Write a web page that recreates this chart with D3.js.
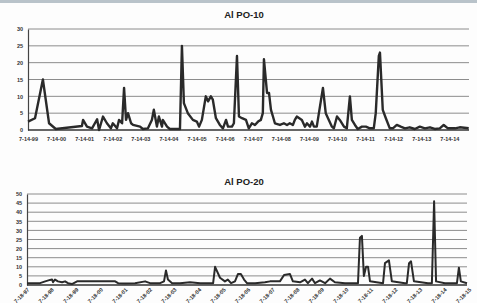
<!DOCTYPE html>
<html>
<head>
<meta charset="utf-8">
<script src="https://cdnjs.cloudflare.com/ajax/libs/d3/7.8.5/d3.min.js"></script>
<style>
  body { margin: 0; background: #fdfdfd; }
  svg { display: block; font-family: "Liberation Sans", Arial, sans-serif; }
</style>
</head>
<body>
<div id="chart"></div>
<script>
// PO-10: decimal year and value
var po10Years = [1999.00, 1999.25, 1999.53, 1999.75, 1999.99, 2000.92, 2000.96, 2001.10, 2001.28, 2001.46,
  2001.53, 2001.67, 2001.81, 2001.95, 2002.02, 2002.17, 2002.24, 2002.35, 2002.42, 2002.49,
  2002.56, 2002.67, 2002.74, 2002.99, 2003.09, 2003.27, 2003.41, 2003.48, 2003.59, 2003.66,
  2003.77, 2003.80, 2003.95, 2004.05, 2004.41, 2004.48, 2004.55, 2004.69, 2004.87, 2005.01,
  2005.09, 2005.19, 2005.33, 2005.41, 2005.51, 2005.58, 2005.69, 2005.83, 2005.94, 2006.05,
  2006.12, 2006.26, 2006.33, 2006.44, 2006.51, 2006.62, 2006.76, 2006.86, 2006.97, 2007.08,
  2007.19, 2007.29, 2007.36, 2007.40, 2007.51, 2007.58, 2007.65, 2007.72, 2007.79, 2007.97,
  2008.11, 2008.22, 2008.32, 2008.43, 2008.50, 2008.57, 2008.75, 2008.86, 2008.93, 2009.04,
  2009.11, 2009.18, 2009.28, 2009.50, 2009.60, 2009.71, 2009.82, 2009.89, 2010.00, 2010.10,
  2010.25, 2010.35, 2010.46, 2010.53, 2010.64, 2010.74, 2010.89, 2011.03, 2011.17, 2011.31,
  2011.38, 2011.49, 2011.53, 2011.63, 2011.74, 2011.88, 2011.99, 2012.13, 2012.27, 2012.42,
  2012.59, 2012.77, 2012.95, 2013.13, 2013.31, 2013.48, 2013.66, 2013.80, 2013.95, 2014.20,
  2014.37, 2014.69];
var po10Values = [2.5, 3.5, 15, 2, 0.3, 1.2, 3, 1, 0.5, 3.2,
  0, 4, 2, 0.5, 2, 0.5, 3, 2, 12.5, 3,
  5, 2, 1.5, 1, 0.3, 0.5, 3, 6, 1, 4,
  1, 3, 1, 0.3, 0.3, 25, 8, 5, 3, 2.5,
  1, 3, 10, 8.5, 10, 9, 3.5, 1.5, 0.5, 3,
  1, 1, 2, 22, 4, 3.5, 3, 0.5, 2, 1.5,
  2.5, 3, 5, 21, 11, 11, 6, 4, 2, 1.5,
  2, 1.5, 2, 1.5, 3, 4, 3, 1, 2, 1,
  2.5, 1, 1, 12.5, 5, 3, 1, 0.5, 4, 3,
  1, 0.5, 10, 3, 1.5, 0.3, 1, 1, 0.5, 0.5,
  5, 22, 23, 6, 3.5, 0.5, 0.5, 1.5, 1, 0.5,
  0.8, 0.3, 1, 0.5, 0.8, 0.3, 0.5, 1.5, 0.5, 0.5,
  0.8, 0.5];

// PO-20: decimal year and value
var po20Years = [1997.12, 1997.65, 1997.86, 1998.06, 1998.14, 1998.18, 1998.26, 1998.38, 1998.55, 1998.67,
  1998.79, 1998.95, 1999.16, 2000.71, 2000.83, 2001.11, 2001.52, 2001.93, 2002.13, 2002.54,
  2002.70, 2002.78, 2002.86, 2003.03, 2003.35, 2003.76, 2004.17, 2004.70, 2004.78, 2004.98,
  2005.18, 2005.30, 2005.43, 2005.59, 2005.71, 2005.83, 2005.96, 2006.08, 2006.41, 2006.81,
  2007.02, 2007.42, 2007.59, 2007.83, 2007.95, 2008.24, 2008.44, 2008.56, 2008.73, 2008.85,
  2009.05, 2009.26, 2009.46, 2009.66, 2010.07, 2010.60, 2010.68, 2010.76, 2010.84, 2010.93,
  2011.01, 2011.09, 2011.62, 2011.70, 2011.86, 2011.98, 2012.51, 2012.59, 2012.68, 2012.76,
  2012.88, 2013.45, 2013.61, 2013.70, 2013.78, 2014.14, 2014.63, 2014.71, 2014.79, 2015.04];
var po20Values = [1, 1, 2, 2.8, 3, 1.5, 3, 2, 1.5, 2,
  1, 0.5, 2, 2, 1, 0.8, 1, 2, 1, 1,
  2, 8, 3, 1, 1, 1.5, 1, 1, 10, 4,
  2, 3, 1, 2, 6, 6, 3, 1, 1, 1.5,
  2, 2, 5.5, 6, 2, 1.5, 3, 1, 3.5, 1,
  2.5, 1, 3.5, 1.5, 1, 1, 26, 27, 5, 10,
  10, 2, 1, 12, 13.5, 2, 1, 1, 12, 13,
  2, 1, 1, 46, 2, 1, 1, 9.5, 2, 1];

var po10TickYears = d3.range(1999, 2015);
var po10TickLabels = ["7-14-99", "7-14-00", "7-14-01", "7-14-02", "7-14-03", "7-14-04", "7-14-05", "7-14-06",
  "7-14-07", "7-14-08", "7-14-09", "7-14-10", "7-14-11", "7-14-12", "7-14-13", "7-14-14"];
var po10YTicks = [0, 5, 10, 15, 20, 25, 30];

var po20TickYears = d3.range(1997, 2016);
var po20TickLabels = ["7-18-97", "7-18-98", "7-18-99", "7-18-00", "7-18-01", "7-18-02", "7-18-03", "7-18-04",
  "7-18-05", "7-18-06", "7-18-07", "7-18-08", "7-18-09", "7-18-10", "7-18-11", "7-18-12", "7-18-13",
  "7-18-14", "7-18-15"];
var po20YTicks = [0, 5, 10, 15, 20, 25, 30, 35, 40, 45, 50];

var svgWidth = 477;
var svgHeight = 303;

var svg = d3.select("#chart")
  .append("svg")
  .attr("width", svgWidth)
  .attr("height", svgHeight);

// scanned page edge at the top
svg.append("rect")
  .attr("width", svgWidth)
  .attr("height", 3)
  .attr("fill", "#b9c3ca");

function drawPanel(opt) {
  var x = d3.scaleLinear().domain(opt.xDomain).range([opt.left, opt.right]);
  var y = d3.scaleLinear().domain([0, d3.max(opt.yTicks)]).range([opt.bottom, opt.top]);

  svg.append("text")
    .attr("x", opt.titleX)
    .attr("y", opt.titleY)
    .attr("text-anchor", "middle")
    .attr("font-size", 9.5)
    .attr("font-weight", "bold")
    .attr("fill", "#222")
    .text(opt.title);

  // horizontal grid
  svg.append("g")
    .selectAll("line")
    .data(opt.yTicks.filter(d => d > 0))
    .enter()
    .append("line")
    .attr("x1", opt.left)
    .attr("x2", opt.right)
    .attr("y1", d => y(d))
    .attr("y2", d => y(d))
    .attr("stroke", "#8c8c8c")
    .attr("stroke-width", 1);

  var leftAxis = d3.axisLeft(y).tickValues(opt.yTicks).tickSize(0).tickPadding(5);
  var yg = svg.append("g")
    .attr("transform", `translate(${opt.left},0)`)
    .call(leftAxis);
  yg.select(".domain").attr("stroke", "#444").attr("stroke-width", 1.2);
  yg.selectAll("text")
    .attr("font-size", 5.5)
    .attr("font-weight", "bold")
    .attr("fill", "#333")
    .attr("font-family", "Liberation Sans, Arial, sans-serif");

  var labelFor = d3.scaleOrdinal().domain(opt.tickYears).range(opt.tickLabels);
  var bottomAxis = d3.axisBottom(x).tickValues(opt.tickYears).tickSize(0)
    .tickFormat(d => labelFor(d)).tickPadding(opt.rotate ? 4 : 7);
  var xg = svg.append("g")
    .attr("transform", `translate(0,${opt.bottom})`)
    .call(bottomAxis);
  xg.select(".domain").remove();
  xg.selectAll("text")
    .attr("font-size", 5.5)
    .attr("font-weight", "bold")
    .attr("fill", "#333")
    .attr("font-family", "Liberation Sans, Arial, sans-serif");
  if (opt.rotate) {
    xg.selectAll("text")
      .attr("text-anchor", "end")
      .attr("dy", "0.6em")
      .attr("transform", "rotate(-45)");
  }

  // baseline
  svg.append("line")
    .attr("x1", opt.left)
    .attr("x2", opt.right)
    .attr("y1", y(0))
    .attr("y2", y(0))
    .attr("stroke", "#333")
    .attr("stroke-width", 1.4);

  var pts = opt.years.map((t, i) => [t, opt.values[i]]);
  var line = d3.line()
    .x(d => x(d[0]))
    .y(d => y(d[1]));

  svg.append("path")
    .datum(pts)
    .attr("d", line)
    .attr("fill", "none")
    .attr("stroke", "#2a2a2a")
    .attr("stroke-width", opt.lineWidth)
    .attr("stroke-linejoin", "round");
}

drawPanel({
  title: "Al PO-10", titleX: 244, titleY: 18,
  years: po10Years, values: po10Values,
  tickYears: po10TickYears, tickLabels: po10TickLabels, yTicks: po10YTicks,
  xDomain: [1999, 2014.7],
  left: 28, right: 469, top: 29, bottom: 130,
  lineWidth: 2.4, rotate: false
});

drawPanel({
  title: "Al PO-20", titleX: 244, titleY: 185,
  years: po20Years, values: po20Values,
  tickYears: po20TickYears, tickLabels: po20TickLabels, yTicks: po20YTicks,
  xDomain: [1997.12, 2015.04],
  left: 27, right: 467, top: 194, bottom: 285,
  lineWidth: 2, rotate: true
});
</script>
</body>
</html>
